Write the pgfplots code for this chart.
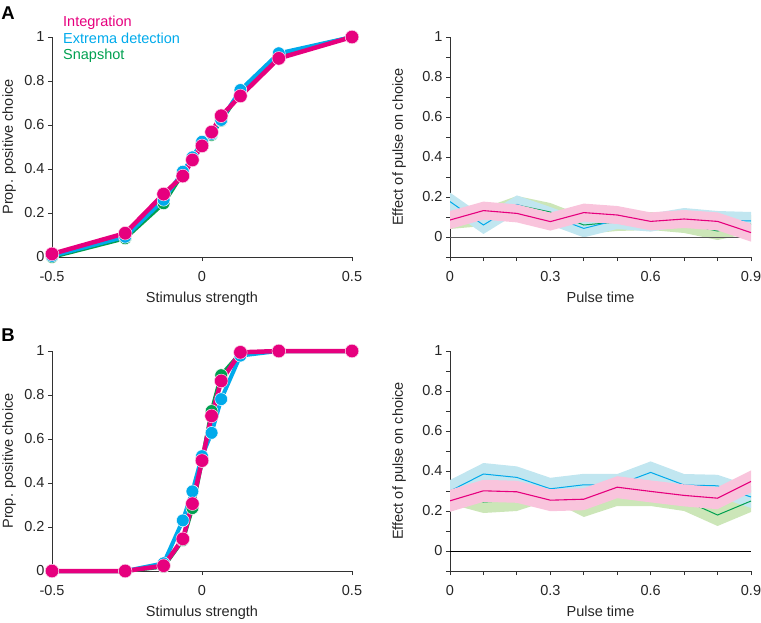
\documentclass[border=0pt]{standalone}
\usepackage{fontspec}
\setmainfont{Liberation Sans}
\usepackage{pgfplots}
\usepackage{pgfplotstable}
\pgfplotsset{compat=1.18}

\definecolor{intcol}{RGB}{230,0,126}
\definecolor{extcol}{RGB}{0,170,235}
\definecolor{snapcol}{RGB}{0,160,80}
\definecolor{intband}{RGB}{249,196,220}
\definecolor{extband}{RGB}{193,230,240}
\definecolor{snapband}{RGB}{204,230,184}
\definecolor{axcol}{RGB}{50,50,50}

\newcommand{\fs}{\fontsize{14.5}{17}\selectfont}

% psychometric data
\pgfplotstableread{
x int ext snap
-0.5 0.014 0.005 0.0
-0.256 0.108 0.092 0.085
-0.128 0.286 0.26 0.244
-0.064 0.368 0.388 0.38
-0.032 0.441 0.453 0.45
0 0.505 0.524 0.52
0.032 0.568 0.56 0.555
0.064 0.642 0.623 0.62
0.128 0.732 0.759 0.75
0.256 0.903 0.926 0.92
0.5 1.0 1.0 1.0
}\psyA

\pgfplotstableread{
x int ext snap
-0.5 0.0 0.0 0.0
-0.256 0.0 0.0 0.0
-0.128 0.024 0.035 0.02
-0.064 0.146 0.23 0.14
-0.032 0.306 0.362 0.286
0 0.502 0.522 0.5
0.032 0.705 0.628 0.727
0.064 0.864 0.781 0.89
0.128 0.994 0.979 0.99
0.256 1.0 1.0 1.0
0.5 1.0 1.0 1.0
}\psyB

% psychophysical kernels (means)
\pgfplotstableread{
t int ext snap
0.0 0.085 0.177 0.085
0.1 0.132 0.060 0.100
0.2 0.118 0.163 0.160
0.3 0.077 0.105 0.125
0.4 0.122 0.043 0.060
0.5 0.110 0.085 0.075
0.6 0.078 0.072 0.080
0.7 0.090 0.100 0.065
0.8 0.078 0.085 0.030
0.9 0.022 0.080 0.065
}\kerA

\pgfplotstableread{
t int ext snap
0.0 0.251 0.300 0.290
0.1 0.301 0.385 0.245
0.2 0.296 0.368 0.255
0.3 0.254 0.311 0.310
0.4 0.259 0.331 0.225
0.5 0.319 0.330 0.280
0.6 0.298 0.393 0.280
0.7 0.278 0.330 0.255
0.8 0.264 0.326 0.180
0.9 0.348 0.270 0.250
}\kerB

% error bands: upper edge forward, lower edge back
\pgfplotstableread{
t y
0.0 0.130
0.1 0.177
0.2 0.163
0.3 0.122
0.4 0.167
0.5 0.155
0.6 0.123
0.7 0.135
0.8 0.123
0.9 0.067
0.9 -0.023
0.8 0.033
0.7 0.045
0.6 0.033
0.5 0.065
0.4 0.077
0.3 0.032
0.2 0.073
0.1 0.087
0.0 0.040
}\intbandA

\pgfplotstableread{
t y
0.0 0.222
0.1 0.105
0.2 0.208
0.3 0.150
0.4 0.088
0.5 0.130
0.6 0.117
0.7 0.145
0.8 0.130
0.9 0.125
0.9 0.035
0.8 0.040
0.7 0.055
0.6 0.027
0.5 0.040
0.4 -0.002
0.3 0.060
0.2 0.118
0.1 0.015
0.0 0.132
}\extbandA

\pgfplotstableread{
t y
0.0 0.130
0.1 0.145
0.2 0.205
0.3 0.170
0.4 0.105
0.5 0.120
0.6 0.125
0.7 0.110
0.8 0.075
0.9 0.110
0.9 0.020
0.8 -0.015
0.7 0.020
0.6 0.035
0.5 0.030
0.4 0.015
0.3 0.080
0.2 0.115
0.1 0.055
0.0 0.040
}\snapbandA

\pgfplotstableread{
t y
0.0 0.306
0.1 0.356
0.2 0.351
0.3 0.309
0.4 0.314
0.5 0.374
0.6 0.353
0.7 0.333
0.8 0.319
0.9 0.403
0.9 0.293
0.8 0.209
0.7 0.223
0.6 0.243
0.5 0.264
0.4 0.204
0.3 0.199
0.2 0.241
0.1 0.246
0.0 0.196
}\intbandB

\pgfplotstableread{
t y
0.0 0.355
0.1 0.440
0.2 0.423
0.3 0.366
0.4 0.386
0.5 0.385
0.6 0.448
0.7 0.385
0.8 0.381
0.9 0.325
0.9 0.215
0.8 0.271
0.7 0.275
0.6 0.338
0.5 0.275
0.4 0.276
0.3 0.256
0.2 0.313
0.1 0.330
0.0 0.245
}\extbandB

\pgfplotstableread{
t y
0.0 0.345
0.1 0.300
0.2 0.310
0.3 0.365
0.4 0.280
0.5 0.335
0.6 0.335
0.7 0.310
0.8 0.235
0.9 0.305
0.9 0.195
0.8 0.125
0.7 0.200
0.6 0.225
0.5 0.225
0.4 0.170
0.3 0.255
0.2 0.200
0.1 0.190
0.0 0.235
}\snapbandB

\pgfplotsset{
  panel/.style={
    scale only axis,
    anchor=south west,
    axis lines=left,
    axis line style={-, draw=axcol, line width=0.8pt},
    tick align=outside,
    major tick length=4pt,
    tick style={draw=axcol, line width=0.8pt},
    tick label style={font=\fs, text=black!85},
    xticklabel style={yshift=-7pt},
    label style={font=\fs, text=black!85},
    /pgf/number format/assume math mode=true,
    xlabel style={at={(axis description cs:0.5,-0.205)}, anchor=base},
  },
  psy/.style={
    panel, width=300pt, height=220pt,
    xmin=-0.5, xmax=0.5, ymin=0, ymax=1,
    xtick={-0.5,0,0.5}, xticklabels={-0.5,0,0.5},
    ytick={0,0.2,0.4,0.6,0.8,1}, yticklabels={0,0.2,0.4,0.6,0.8,1},
    xlabel={Stimulus strength}, ylabel={Prop. positive choice},
    ylabel style={at={(axis description cs:-0.143,0.5)}, anchor=center},
    clip=false,
  },
  ker/.style={
    panel, width=301pt, height=220pt,
    xmin=0, xmax=0.9, ymin=-0.1, ymax=1,
    xtick={0,0.1,0.2,0.3,0.4,0.5,0.6,0.7,0.8,0.9},
    xticklabels={0,,,0.3,,,0.6,,,0.9},
    ytick={-0.1,0,0.1,0.2,0.3,0.4,0.5,0.6,0.7,0.8,0.9,1},
    yticklabels={,0,,0.2,,0.4,,0.6,,0.8,,1},
    xlabel={Pulse time}, ylabel={Effect of pulse on choice},
    ylabel style={at={(axis description cs:-0.169,0.5)}, anchor=center},
  },
  snapline/.style={snapcol, line width=4pt, mark=*, mark size=6.4pt,
    mark options={fill=snapcol, draw=white, line width=0.5pt}},
  extline/.style={extcol, line width=4pt, mark=*, mark size=6.4pt,
    mark options={fill=extcol, draw=white, line width=0.5pt}},
  intline/.style={intcol, line width=4.5pt, mark=*, mark size=6.8pt,
    mark options={fill=intcol, draw=white!85!intcol, line width=0.5pt}},
}

\begin{document}
\begin{tikzpicture}
\useasboundingbox (0pt,0pt) rectangle (761pt,-623pt);

% ---- A left
\begin{axis}[psy, at={(52pt,-257pt)},
  legend cell align=left, reverse legend,
  legend image code/.code={\path (0pt,0pt);},
  legend style={at={(0.02,1.10)}, anchor=north west, draw=none, fill=none,
    font=\fs, row sep=0pt, inner sep=0pt,
    nodes={inner sep=0.5pt, text height=11pt, text depth=4.5pt}},
]
\addplot[snapline] table[x=x,y=snap]{\psyA};
\addlegendentry{\textcolor{snapcol}{Snapshot}}
\addplot[extline] table[x=x,y=ext]{\psyA};
\addlegendentry{\textcolor{extcol}{Extrema detection}}
\addplot[intline] table[x=x,y=int]{\psyA};
\addlegendentry{\textcolor{intcol}{Integration}}
\end{axis}

% ---- A right
\begin{axis}[ker, at={(450pt,-257pt)}]
\addplot[fill=snapband, draw=none] table[x=t,y=y]{\snapbandA};
\addplot[fill=extband, draw=none] table[x=t,y=y]{\extbandA};
\addplot[black!65, line width=0.9pt] coordinates {(0,0) (0.9,0)};
\addplot[snapcol, line width=1pt] table[x=t,y=snap]{\kerA};
\addplot[extcol, line width=1pt] table[x=t,y=ext]{\kerA};
\addplot[fill=intband, draw=none] table[x=t,y=y]{\intbandA};
\addplot[intcol, line width=1.1pt] table[x=t,y=int]{\kerA};
\end{axis}

% ---- B left
\begin{axis}[psy, at={(52pt,-571pt)}]
\addplot[snapline] table[x=x,y=snap]{\psyB};
\addplot[extline] table[x=x,y=ext]{\psyB};
\addplot[intline] table[x=x,y=int]{\psyB};
\end{axis}

% ---- B right
\begin{axis}[ker, at={(450pt,-571pt)}]
\addplot[fill=snapband, draw=none] table[x=t,y=y]{\snapbandB};
\addplot[fill=extband, draw=none] table[x=t,y=y]{\extbandB};
\addplot[black, line width=0.9pt] coordinates {(0,0) (0.9,0)};
\addplot[snapcol, line width=1pt] table[x=t,y=snap]{\kerB};
\addplot[extcol, line width=1pt] table[x=t,y=ext]{\kerB};
\addplot[fill=intband, draw=none] table[x=t,y=y]{\intbandB};
\addplot[intcol, line width=1.1pt] table[x=t,y=int]{\kerB};
\end{axis}

\node[font=\bfseries\fontsize{18.5}{18.5}\selectfont] at (8pt,-13pt) {A};
\node[font=\bfseries\fontsize{18.5}{18.5}\selectfont] at (8pt,-335pt) {B};
\end{tikzpicture}
\end{document}
